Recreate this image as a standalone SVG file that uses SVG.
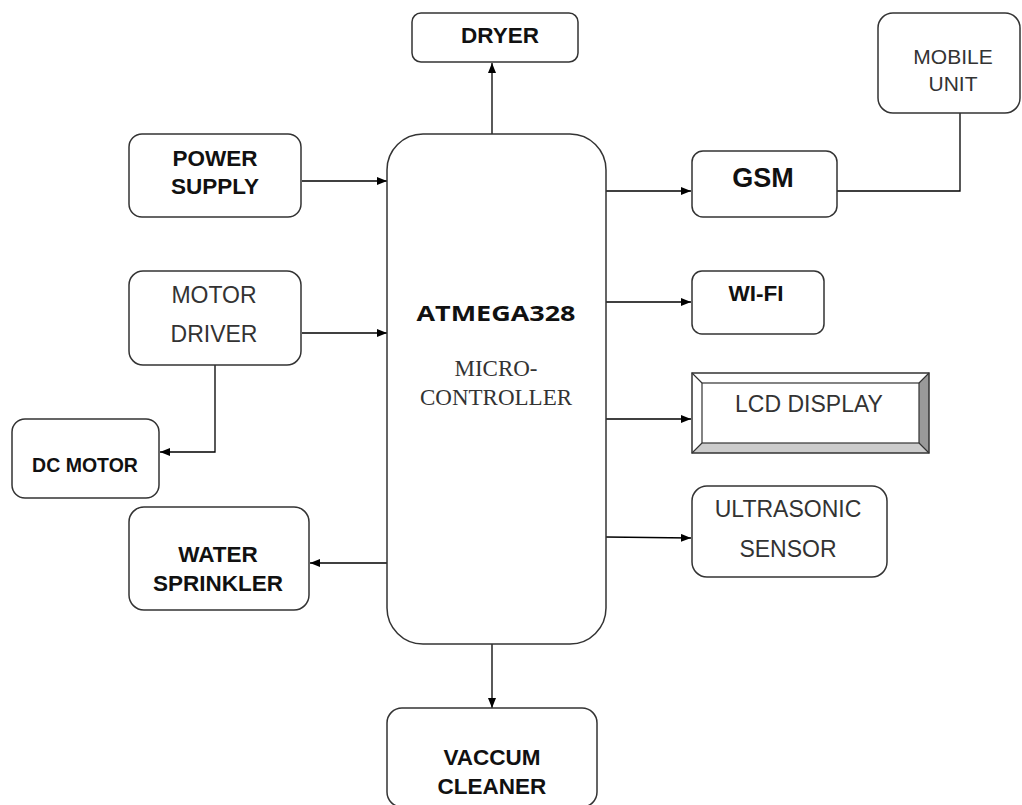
<svg xmlns="http://www.w3.org/2000/svg" width="1022" height="805" viewBox="0 0 1022 805">
<defs>
<marker id="arr" markerWidth="10" markerHeight="8" refX="10" refY="4" orient="auto" markerUnits="userSpaceOnUse">
<path d="M0,0 L10,4 L0,8 Z" fill="#000"/>
</marker>
<style>
.box{fill:#fff;stroke:#333;stroke-width:1.5}
.b{font-family:"Liberation Sans",Arial,sans-serif;font-weight:bold;font-size:22.5px;fill:#111;text-anchor:middle}
.r{font-family:"Liberation Sans",Arial,sans-serif;font-size:23px;fill:#333;text-anchor:middle}
.ln{fill:none;stroke:#000;stroke-width:1.3}
</style>
</defs>
<rect width="1022" height="805" fill="#fff"/>
<g id="connectors">
<line class="ln" x1="492" y1="134" x2="492" y2="63" marker-end="url(#arr)"/>
<line class="ln" x1="302" y1="181" x2="387" y2="181" marker-end="url(#arr)"/>
<line class="ln" x1="302" y1="333" x2="387" y2="333" marker-end="url(#arr)"/>
<polyline class="ln" points="215,365 215,452 160,452" marker-end="url(#arr)"/>
<line class="ln" x1="387" y1="563" x2="310" y2="563" marker-end="url(#arr)"/>
<line class="ln" x1="492" y1="644" x2="492" y2="708" marker-end="url(#arr)"/>
<line class="ln" x1="606" y1="191" x2="691" y2="191" marker-end="url(#arr)"/>
<polyline class="ln" points="837,191 960,191 960,113"/>
<line class="ln" x1="606" y1="302" x2="691" y2="302" marker-end="url(#arr)"/>
<line class="ln" x1="606" y1="419" x2="691" y2="419" marker-end="url(#arr)"/>
<line class="ln" x1="606" y1="537" x2="691" y2="538" marker-end="url(#arr)"/>
</g>
<g id="mcu">
<rect class="box" x="387" y="134" width="219" height="510" rx="36"/>
<text x="496" y="321" font-family="'Open Sans','Noto Sans',sans-serif" font-weight="bold" font-size="22" fill="#111" text-anchor="middle" textLength="159" lengthAdjust="spacingAndGlyphs">ATMEGA328</text>
<text x="496" y="376" font-family="'Liberation Serif','Times New Roman',serif" font-size="23" fill="#333" text-anchor="middle">MICRO-</text>
<text x="496" y="405" font-family="'Liberation Serif','Times New Roman',serif" font-size="23" fill="#333" text-anchor="middle">CONTROLLER</text>
</g>
<g id="dryer">
<rect class="box" x="412" y="13" width="166" height="49" rx="9"/>
<text class="b" x="500" y="43">DRYER</text>
</g>
<g id="power">
<rect class="box" x="129" y="134" width="172" height="83" rx="13"/>
<text class="b" x="215" y="166">POWER</text>
<text class="b" x="215" y="194">SUPPLY</text>
</g>
<g id="motordriver">
<rect class="box" x="129" y="271" width="172" height="94" rx="14"/>
<text class="r" x="214" y="303">MOTOR</text>
<text class="r" x="214" y="342">DRIVER</text>
</g>
<g id="dcmotor">
<rect class="box" x="12" y="419" width="147" height="79" rx="13"/>
<text class="b" x="85" y="472" style="font-size:19.5px">DC MOTOR</text>
</g>
<g id="sprinkler">
<rect class="box" x="129" y="507" width="180" height="103" rx="15"/>
<text class="b" x="218" y="562">WATER</text>
<text class="b" x="218" y="591">SPRINKLER</text>
</g>
<g id="vacuum">
<rect class="box" x="387" y="708" width="210" height="99" rx="15"/>
<text class="b" x="492" y="765">VACCUM</text>
<text class="b" x="492" y="794">CLEANER</text>
</g>
<g id="gsm">
<rect class="box" x="692" y="151" width="145" height="66" rx="11"/>
<text class="b" x="763" y="187" style="font-size:27px">GSM</text>
</g>
<g id="mobile">
<rect class="box" x="878" y="13" width="142" height="100" rx="15"/>
<text class="r" x="953" y="64" style="font-size:21px">MOBILE</text>
<text class="r" x="953" y="91" style="font-size:21px">UNIT</text>
</g>
<g id="wifi">
<rect class="box" x="692" y="271" width="132" height="63" rx="10"/>
<text class="b" x="756" y="301">WI-FI</text>
</g>
<g id="lcd">
<rect x="692" y="373" width="237" height="80" fill="#fff"/>
<polygon points="919,383 929,373 929,453 919,443" fill="#999"/>
<polygon points="702,443 919,443 929,453 692,453" fill="#ccc"/>
<rect x="692" y="373" width="237" height="80" fill="none" stroke="#333" stroke-width="1.5"/>
<rect x="702" y="383" width="217" height="60" fill="none" stroke="#333" stroke-width="1.2"/>
<path d="M692,373 L702,383 M929,373 L919,383 M692,453 L702,443 M929,453 L919,443" stroke="#333" stroke-width="1.2"/>
<text class="r" x="809" y="412">LCD DISPLAY</text>
</g>
<g id="ultrasonic">
<rect class="box" x="692" y="486" width="195" height="91" rx="15"/>
<text class="r" x="788" y="517">ULTRASONIC</text>
<text class="r" x="788" y="557">SENSOR</text>
</g>
</svg>
